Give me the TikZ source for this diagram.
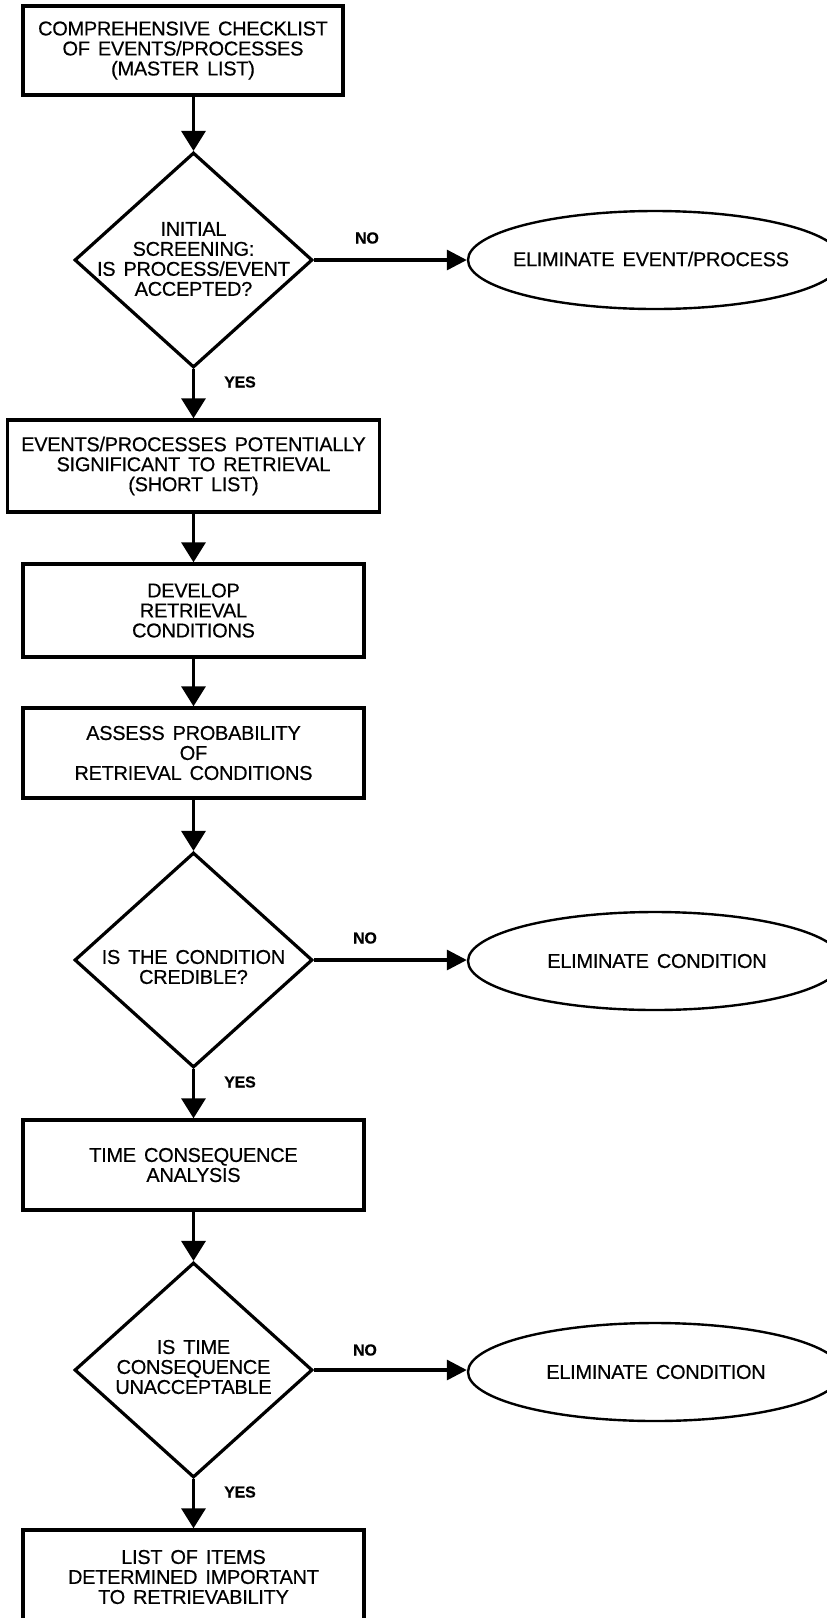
\documentclass[tikz,border=0pt]{standalone}
\usepackage{fontspec}
\setmainfont{Liberation Sans}[FakeBold=0.4, WordSpace=1.5, LetterSpace=-1.5]
\usetikzlibrary{shapes.geometric,arrows.meta}
\begin{document}
\begin{tikzpicture}[x=1pt,y=-1pt,
  box/.style={draw, line width=3.4pt, inner sep=0pt, align=center,
              font=\fontsize{20}{20}\selectfont},
  dia/.style={draw, diamond, line width=3.2pt, inner sep=0pt,
              minimum width=238pt, minimum height=215pt},
  elli/.style={draw, ellipse, line width=2.4pt, inner sep=0pt,
               minimum width=374pt, minimum height=98pt},
  txt/.style={align=center, font=\fontsize{20}{20}\selectfont, inner sep=0pt},
  lab/.style={font=\bfseries\fontsize{16}{16}\selectfont, inner sep=0pt},
  flow/.style={line width=3.4pt, -{Triangle[width=24pt,length=20pt]}},
  side/.style={line width=3.2pt, -{Triangle[width=20pt,length=20pt]}},
]
\clip (0,0) rectangle (827,1618);

% main column
\node[box, minimum width=320pt, minimum height=89pt] (b1) at (183,50.5)
  {COMPREHENSIVE CHECKLIST\\OF EVENTS/PROCESSES\\(MASTER LIST)};
\node[dia] (d1) at (193.5,260) {};
\node[txt] (d1t) at (193.5,259) {INITIAL\\SCREENING:\\IS PROCESS/EVENT\\ACCEPTED?};
\node[box, minimum width=372pt, minimum height=92pt] (b2) at (193.5,466)
  {EVENTS/PROCESSES POTENTIALLY\\SIGNIFICANT TO RETRIEVAL\\(SHORT LIST)};
\node[box, minimum width=341pt, minimum height=93pt] (b3) at (193.5,610.5)
  {DEVELOP\\RETRIEVAL\\CONDITIONS};
\node[box, minimum width=341pt, minimum height=90pt] (b4) at (193.5,753)
  {ASSESS PROBABILITY\\OF\\RETRIEVAL CONDITIONS};
\node[dia] (d2) at (193.5,960) {};
\node[txt] (d2t) at (193.5,967) {IS THE CONDITION\\CREDIBLE?};
\node[box, minimum width=341pt, minimum height=90pt] (b5) at (193.5,1165)
  {TIME CONSEQUENCE\\ANALYSIS};
\node[dia] (d3) at (193.5,1370) {};
\node[txt] (d3t) at (193.5,1367) {IS TIME\\CONSEQUENCE\\UNACCEPTABLE};
\node[box, minimum width=341pt, minimum height=94pt] (b6) at (193.5,1577)
  {LIST OF ITEMS\\DETERMINED IMPORTANT\\TO RETRIEVABILITY};

% rejection outcomes
\node[elli] (e1) at (655,260) {};
\node[txt] (e1t) at (651,259) {ELIMINATE EVENT/PROCESS};
\node[elli] (e2) at (655,961) {};
\node[txt] (e2t) at (657,961) {ELIMINATE CONDITION};
\node[elli] (e3) at (655,1372) {};
\node[txt] (e3t) at (656,1372) {ELIMINATE CONDITION};

% downward flow
\draw[flow] (d1.north |- b1.south) -- (d1.north);
\draw[flow] (d1.south) -- (b2.north);
\draw[flow] (b2.south) -- (b3.north);
\draw[flow] (b3.south) -- (b4.north);
\draw[flow] (b4.south) -- (d2.north);
\draw[flow] (d2.south) -- (b5.north);
\draw[flow] (b5.south) -- (d3.north);
\draw[flow] (d3.south) -- (b6.north);

% NO branches
\draw[side] (d1.east) -- (d1.east -| e1.west);
\draw[side] (d2.east) -- (d2.east -| e2.west);
\draw[side] (d3.east) -- (d3.east -| e3.west);

% branch labels
\node[lab] (no1) at (367,238) {NO};
\node[lab] (no2) at (365,938) {NO};
\node[lab] (no3) at (365,1350) {NO};
\node[lab] (yes1) at (240,382) {YES};
\node[lab] (yes2) at (240,1082) {YES};
\node[lab] (yes3) at (240,1492) {YES};
\end{tikzpicture}
\end{document}
